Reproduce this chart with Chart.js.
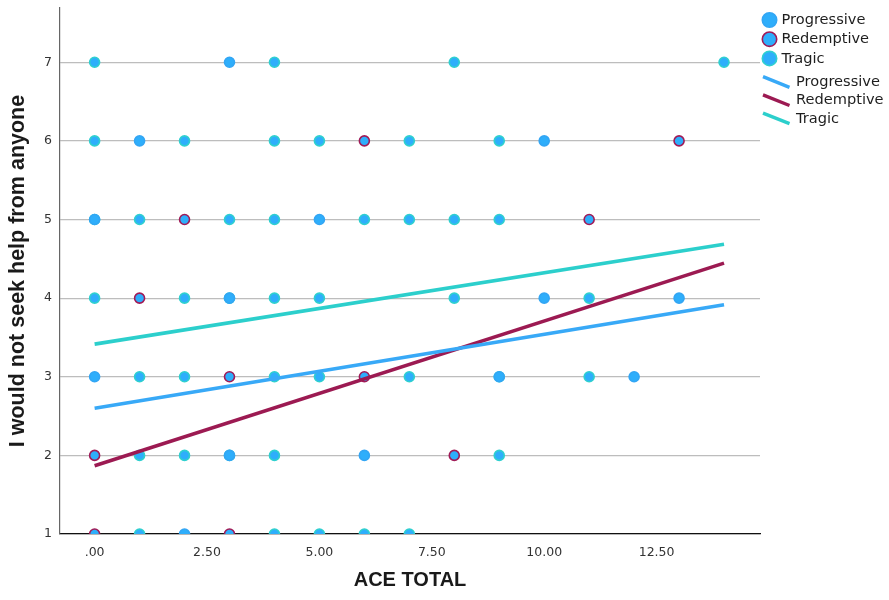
<!DOCTYPE html>
<html>
<head>
<meta charset="utf-8">
<script src="https://cdn.jsdelivr.net/npm/chart.js@4/dist/chart.umd.min.js"></script>
<style>
  html, body { margin: 0; padding: 0; background: #ffffff; }
  #wrap { width: 889px; height: 600px; }
</style>
</head>
<body>
<div id="wrap"><canvas id="chart" width="889" height="600"></canvas></div>
<script>
// ACE total (x) vs. "I would not seek help from anyone" (y), by narrative group
const groupNames = ['Progressive', 'Redemptive', 'Tragic'];

const progressivePoints = [
  [3, 7], [1, 6], [10, 6], [0, 5], [5, 5], [3, 4], [10, 4], [13, 4],
  [0, 3], [9, 3], [12, 3], [3, 2], [6, 2], [2, 1]
];
const redemptivePoints = [
  [6, 6], [13, 6], [2, 5], [11, 5], [1, 4], [3, 3], [6, 3], [0, 2], [8, 2],
  [0, 1], [3, 1]
];
const tragicPoints = [
  [0, 7], [4, 7], [8, 7], [14, 7],
  [0, 6], [2, 6], [4, 6], [5, 6], [7, 6], [9, 6],
  [0, 5], [1, 5], [3, 5], [4, 5], [6, 5], [7, 5], [8, 5], [9, 5],
  [0, 4], [2, 4], [3, 4], [4, 4], [5, 4], [8, 4], [11, 4],
  [1, 3], [2, 3], [4, 3], [5, 3], [7, 3], [9, 3], [11, 3],
  [1, 2], [2, 2], [3, 2], [4, 2], [9, 2],
  [1, 1], [4, 1], [5, 1], [6, 1], [7, 1]
];

// Linear fit lines: predicted value at each end of the ACE range
const fitX = [0, 14];
const progressiveFit = [2.60, 3.915];
const redemptiveFit = [1.868, 4.445];
const tragicFit = [3.415, 4.686];

// Axis ticks
const xTickValues = [0, 2.5, 5, 7.5, 10, 12.5];
const xTickLabels = ['.00', '2.50', '5.00', '7.50', '10.00', '12.50'];
const yTickValues = [1, 2, 3, 4, 5, 6, 7];

const markerFill = '#2eaefb';
const groupEdge = ['#33a6f4', '#a11b57', '#2fd0cf'];
const lineColors = ['#38a9f7', '#9c1a52', '#2ccfcc'];

const toXY = pts => pts.map(p => ({ x: p[0], y: p[1] }));
const fitXY = vals => fitX.map((x, i) => ({ x: x, y: vals[i] }));

function pointSet(label, pts, edge) {
  return {
    label: label,
    data: toXY(pts),
    backgroundColor: markerFill,
    borderColor: edge,
    pointRadius: 5,
    pointBorderWidth: 1.6,
    pointHoverRadius: 5,
    order: 2
  };
}
function fitSet(label, vals, color) {
  return {
    label: label + ' fit',
    data: fitXY(vals),
    showLine: true,
    borderColor: color,
    backgroundColor: color,
    borderWidth: 3.6,
    pointRadius: 0,
    pointHoverRadius: 0,
    order: 1
  };
}

// Legend drawn at the right of the plot: markers first, then fit lines
const sideLegend = {
  id: 'sideLegend',
  afterDraw(chart) {
    const ctx = chart.ctx;
    ctx.save();
    ctx.font = '14.6px "DejaVu Sans"';
    ctx.textBaseline = 'middle';
    ctx.textAlign = 'left';
    groupNames.forEach((name, i) => {
      const cy = 20 + i * 19.2;
      ctx.beginPath();
      ctx.arc(769.5, cy, 7.2, 0, Math.PI * 2);
      ctx.fillStyle = markerFill;
      ctx.fill();
      ctx.lineWidth = 1.6;
      ctx.strokeStyle = groupEdge[i];
      ctx.stroke();
      ctx.fillStyle = '#1e1e1e';
      ctx.fillText(name, 781.5, cy + 0.5);
    });
    groupNames.forEach((name, i) => {
      const cy = 82 + i * 18.2;
      ctx.beginPath();
      ctx.moveTo(763, cy - 5.3);
      ctx.lineTo(789.5, cy + 5.3);
      ctx.lineWidth = 3.4;
      ctx.strokeStyle = lineColors[i];
      ctx.stroke();
      ctx.fillStyle = '#1e1e1e';
      ctx.fillText(name, 796, cy + 0.5);
    });
    ctx.restore();
  }
};

new Chart(document.getElementById('chart'), {
  type: 'scatter',
  data: {
    datasets: [
      fitSet(groupNames[0], progressiveFit, lineColors[0]),
      fitSet(groupNames[1], redemptiveFit, lineColors[1]),
      fitSet(groupNames[2], tragicFit, lineColors[2]),
      pointSet(groupNames[0], progressivePoints, groupEdge[0]),
      pointSet(groupNames[1], redemptivePoints, groupEdge[1]),
      pointSet(groupNames[2], tragicPoints, groupEdge[2])
    ]
  },
  options: {
    responsive: false,
    animation: false,
    devicePixelRatio: 1,
    layout: { padding: { top: 8, right: 129, left: 0, bottom: 0 } },
    plugins: {
      legend: { display: false },
      tooltip: { enabled: false }
    },
    scales: {
      x: {
        type: 'linear',
        min: -0.77,
        max: 14.8,
        afterBuildTicks: s => { s.ticks = xTickValues.map(v => ({ value: v })); },
        afterFit: s => { s.height = 66; s.paddingLeft = 0; s.paddingRight = 0; },
        grid: { display: false },
        border: { display: true, color: '#111111', width: 1.2 },
        ticks: {
          padding: 3,
          color: '#333333',
          font: { family: 'DejaVu Sans', size: 12.5 },
          maxRotation: 0,
          callback: (v) => xTickLabels[xTickValues.indexOf(v)]
        },
        title: {
          display: true,
          text: 'ACE TOTAL',
          color: '#1a1a1a',
          font: { family: 'Liberation Sans', size: 20, weight: 'bold' },
          padding: { top: 0, bottom: 8 }
        }
      },
      y: {
        type: 'linear',
        min: 1,
        max: 7.69,
        afterBuildTicks: s => { s.ticks = yTickValues.map(v => ({ value: v })); },
        afterFit: s => { s.width = 60; s.paddingTop = 0; s.paddingBottom = 0; },
        grid: { display: true, color: '#bdbdbd', lineWidth: 1.2, drawTicks: false },
        border: { display: true, color: '#666666', width: 1.2 },
        ticks: {
          padding: 8,
          color: '#333333',
          font: { family: 'DejaVu Sans', size: 12.5 },
          callback: v => String(v)
        },
        title: {
          display: true,
          text: 'I would not seek help from anyone',
          color: '#1a1a1a',
          font: { family: 'Liberation Sans', size: 21.5, weight: 'bold' },
          padding: { top: 5, bottom: 0 }
        }
      }
    }
  },
  plugins: [sideLegend]
});
</script>
</body>
</html>
